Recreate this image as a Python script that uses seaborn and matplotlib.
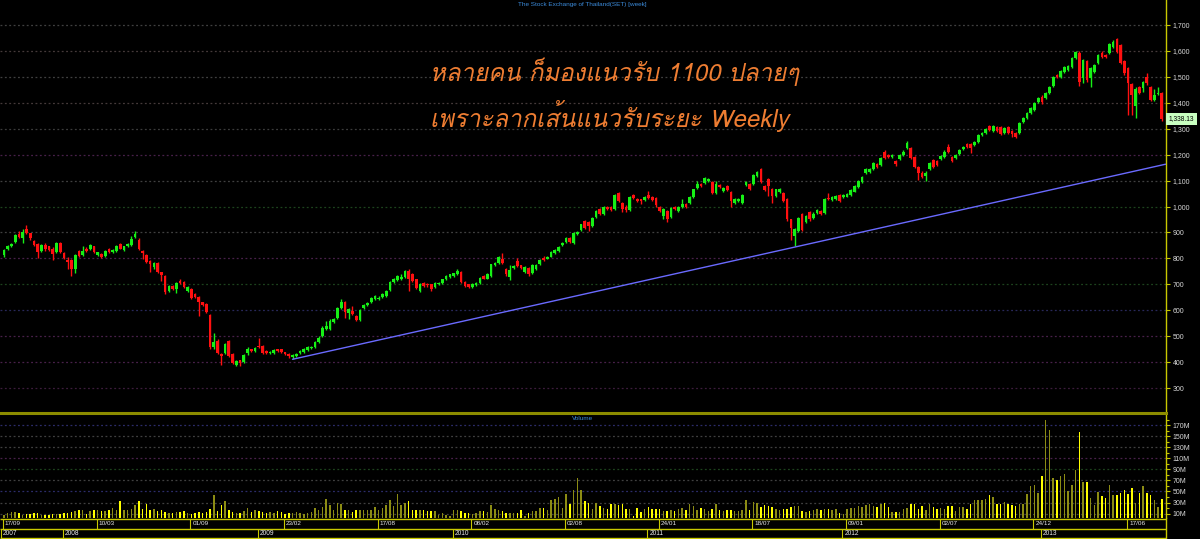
import numpy as np
import pandas as pd
import matplotlib
matplotlib.use("Agg")
import matplotlib.pyplot as plt
import seaborn as sns
from matplotlib import font_manager
from matplotlib.ft2font import FT2Font

# ------------------------------------------------------------------ data
start_week = "2007-09-17"
title = "The Stock Exchange of Thailand(SET) [week]"
note_lines = ["หลายคน ก็มองแนวรับ 1100 ปลายๆ", "เพราะลากเส้นแนวรับระยะ Weekly"]
volume_title = "Volume"
last_price_label = "1,338.13"

opens = [
    813, 838, 849, 864, 894, 877, 913, 896, 868, 855,
    829, 851, 846, 838, 823, 861, 819, 795, 795, 759,
    829, 813, 838, 836, 846, 813, 816, 810, 836, 823,
    829, 855, 833, 846, 851, 881, 872, 829, 813, 791,
    765, 782, 746, 733, 675, 694, 681, 714, 710, 675,
    681, 662, 653, 630, 624, 581, 457, 482, 431, 435,
    482, 431, 388, 408, 401, 437, 450, 444, 462, 462,
    444, 435, 437, 450, 450, 438, 433, 418, 424, 435,
    440, 447, 453, 460, 476, 501, 527, 527, 553, 572,
    607, 630, 591, 598, 576, 562, 607, 620, 630, 643,
    643, 652, 655, 678, 709, 717, 722, 730, 751, 738,
    719, 674, 706, 702, 700, 691, 700, 706, 719, 728,
    732, 738, 747, 709, 700, 690, 697, 706, 732, 722,
    732, 773, 783, 799, 758, 730, 764, 790, 773, 747,
    764, 745, 760, 777, 803, 799, 807, 819, 829, 850,
    864, 880, 858, 893, 909, 944, 941, 925, 961, 989,
    970, 999, 999, 991, 1051, 1015, 1000, 986, 1043, 1030,
    1027, 1025, 1043, 1038, 1034, 999, 963, 982, 961, 999,
    982, 999, 1008, 1012, 1038, 1072, 1085, 1089, 1098, 1094,
    1053, 1081, 1060, 1079, 1056, 1015, 1021, 1015, 1081, 1085,
    1085, 1117, 1143, 1079, 1105, 1069, 1040, 1056, 1051, 1030,
    950, 886, 905, 970, 940, 979, 957, 976, 982, 976,
    1034, 1025, 1027, 1043, 1035, 1038, 1044, 1057, 1077, 1096,
    1128, 1134, 1143, 1164, 1160, 1212, 1199, 1192, 1177, 1182,
    1199, 1224, 1224, 1190, 1154, 1131, 1118, 1143, 1180, 1175,
    1182, 1192, 1231, 1192, 1186, 1202, 1221, 1241, 1241, 1237,
    1250, 1276, 1285, 1310, 1292, 1308, 1308, 1285, 1305, 1292,
    1285, 1285, 1327, 1340, 1359, 1372, 1404, 1424, 1417, 1439,
    1465, 1507, 1498, 1520, 1526, 1539, 1571, 1591, 1494, 1561,
    1494, 1520, 1552, 1593, 1584, 1591, 1616, 1645, 1623, 1559,
    1533, 1472, 1388, 1460, 1456, 1498, 1460, 1411, 1434, 1436,
]
highs = [
    836, 853, 860, 893, 905, 913, 928, 899, 870, 858,
    855, 859, 849, 842, 864, 864, 823, 804, 797, 816,
    833, 846, 842, 855, 849, 826, 819, 833, 840, 836,
    852, 858, 849, 861, 887, 905, 878, 833, 816, 795,
    787, 787, 749, 737, 698, 698, 710, 720, 714, 692,
    685, 666, 656, 633, 627, 585, 512, 489, 435, 473,
    486, 434, 408, 410, 430, 459, 452, 459, 492, 465,
    447, 444, 450, 452, 452, 440, 435, 432, 437, 448,
    454, 461, 464, 482, 499, 538, 559, 568, 570, 611,
    643, 634, 608, 615, 580, 606, 624, 631, 651, 660,
    655, 668, 678, 713, 724, 736, 738, 755, 760, 742,
    722, 704, 710, 706, 703, 710, 710, 722, 735, 741,
    745, 758, 751, 712, 703, 705, 709, 729, 736, 742,
    780, 786, 808, 822, 762, 773, 775, 803, 776, 771,
    768, 777, 777, 796, 810, 810, 829, 835, 847, 864,
    883, 883, 902, 906, 934, 947, 944, 960, 986, 993,
    1003, 1003, 1003, 1047, 1056, 1018, 1004, 1040, 1047, 1033,
    1030, 1041, 1060, 1041, 1037, 1003, 995, 986, 999, 1003,
    1003, 1027, 1012, 1041, 1069, 1098, 1089, 1114, 1111, 1098,
    1098, 1085, 1076, 1083, 1060, 1031, 1031, 1047, 1098, 1089,
    1124, 1137, 1147, 1083, 1109, 1072, 1069, 1070, 1055, 1034,
    953, 916, 961, 974, 967, 983, 977, 990, 986, 1034,
    1051, 1041, 1044, 1047, 1048, 1052, 1068, 1083, 1104, 1119,
    1150, 1147, 1173, 1168, 1191, 1216, 1203, 1203, 1181, 1203,
    1216, 1254, 1228, 1194, 1158, 1135, 1135, 1171, 1184, 1180,
    1199, 1216, 1240, 1196, 1203, 1222, 1235, 1245, 1245, 1254,
    1280, 1289, 1302, 1314, 1314, 1312, 1312, 1305, 1309, 1296,
    1289, 1325, 1344, 1363, 1383, 1402, 1421, 1428, 1440, 1466,
    1502, 1511, 1528, 1543, 1546, 1575, 1601, 1600, 1569, 1565,
    1537, 1550, 1588, 1600, 1588, 1631, 1640, 1650, 1627, 1563,
    1537, 1476, 1460, 1464, 1485, 1516, 1464, 1452, 1460, 1440,
]
lows = [
    806, 832, 845, 860, 878, 859, 893, 872, 846, 800,
    825, 829, 829, 795, 819, 819, 797, 759, 733, 743,
    806, 810, 823, 833, 819, 808, 800, 806, 820, 820,
    826, 835, 830, 843, 848, 878, 832, 797, 783, 746,
    759, 742, 714, 664, 670, 678, 666, 703, 685, 671,
    645, 649, 576, 615, 590, 450, 452, 430, 388, 430,
    420, 392, 384, 386, 397, 428, 440, 440, 455, 433,
    430, 431, 433, 438, 436, 428, 415, 413, 420, 431,
    436, 444, 450, 456, 472, 497, 523, 523, 549, 568,
    603, 572, 566, 581, 559, 558, 603, 616, 627, 640,
    640, 648, 652, 674, 705, 713, 717, 726, 674, 709,
    683, 670, 690, 688, 676, 687, 697, 703, 716, 725,
    729, 735, 704, 690, 686, 687, 694, 703, 719, 719,
    729, 770, 780, 780, 734, 717, 760, 767, 758, 743,
    734, 741, 757, 774, 789, 796, 804, 816, 826, 847,
    861, 861, 855, 889, 906, 915, 906, 921, 957, 966,
    966, 985, 982, 988, 1018, 979, 980, 982, 1030, 1018,
    1008, 1021, 1030, 1021, 1000, 978, 953, 940, 957, 988,
    978, 995, 995, 1008, 1034, 1069, 1076, 1085, 1094, 1050,
    1050, 1072, 1056, 1058, 999, 1011, 1018, 1011, 1078, 1062,
    1081, 1114, 1090, 1058, 1040, 1015, 1036, 1052, 1017, 944,
    871, 847, 901, 905, 936, 946, 953, 972, 966, 972,
    1024, 1021, 1024, 1017, 1031, 1035, 1041, 1054, 1073, 1092,
    1124, 1130, 1139, 1147, 1156, 1182, 1188, 1188, 1158, 1178,
    1195, 1220, 1182, 1150, 1102, 1111, 1100, 1139, 1150, 1155,
    1178, 1188, 1208, 1173, 1182, 1198, 1217, 1227, 1205, 1233,
    1246, 1272, 1281, 1291, 1288, 1288, 1276, 1281, 1281, 1268,
    1265, 1281, 1323, 1336, 1355, 1368, 1400, 1395, 1413, 1435,
    1461, 1494, 1494, 1516, 1522, 1535, 1567, 1465, 1475, 1478,
    1460, 1516, 1548, 1574, 1574, 1587, 1612, 1593, 1548, 1505,
    1353, 1353, 1340, 1432, 1440, 1470, 1405, 1407, 1430, 1330,
]
closes = [
    832, 849, 855, 890, 881, 900, 897, 877, 851, 825,
    851, 836, 833, 816, 861, 823, 800, 787, 761, 813,
    810, 829, 827, 851, 823, 823, 804, 829, 823, 833,
    849, 838, 846, 855, 874, 894, 836, 820, 787, 778,
    782, 746, 735, 669, 694, 681, 707, 707, 688, 688,
    649, 653, 630, 620, 594, 457, 476, 435, 424, 469,
    424, 396, 405, 396, 427, 450, 444, 455, 457, 437,
    434, 440, 446, 442, 440, 431, 422, 428, 433, 444,
    450, 457, 460, 478, 495, 530, 540, 559, 566, 607,
    633, 594, 604, 585, 563, 602, 620, 627, 647, 656,
    649, 664, 674, 710, 719, 732, 730, 751, 719, 713,
    687, 700, 694, 697, 681, 706, 706, 719, 732, 738,
    742, 751, 709, 694, 690, 702, 706, 726, 722, 738,
    777, 783, 805, 783, 738, 755, 771, 771, 762, 768,
    738, 773, 773, 792, 792, 807, 826, 832, 844, 861,
    880, 864, 899, 902, 931, 918, 925, 957, 983, 970,
    999, 989, 986, 1043, 1021, 989, 985, 1036, 1033, 1021,
    1021, 1038, 1034, 1025, 1004, 982, 991, 953, 995, 991,
    999, 1008, 999, 1038, 1066, 1085, 1079, 1111, 1107, 1053,
    1085, 1076, 1072, 1062, 1021, 1027, 1027, 1043, 1094, 1066,
    1120, 1133, 1094, 1062, 1079, 1040, 1066, 1066, 1021, 950,
    918, 912, 957, 909, 963, 950, 973, 986, 970, 1030,
    1027, 1038, 1040, 1021, 1044, 1048, 1064, 1079, 1100, 1115,
    1143, 1143, 1169, 1151, 1187, 1186, 1192, 1199, 1164, 1199,
    1212, 1246, 1186, 1154, 1131, 1115, 1131, 1167, 1154, 1160,
    1195, 1212, 1212, 1177, 1199, 1218, 1231, 1231, 1224, 1250,
    1276, 1285, 1298, 1295, 1310, 1292, 1280, 1301, 1285, 1280,
    1269, 1321, 1340, 1359, 1379, 1398, 1417, 1404, 1436, 1462,
    1498, 1498, 1524, 1539, 1542, 1571, 1597, 1481, 1565, 1488,
    1533, 1546, 1584, 1578, 1578, 1627, 1636, 1597, 1552, 1514,
    1475, 1430, 1452, 1436, 1481, 1475, 1411, 1430, 1439, 1338.13,
]
volumes_m = [
    8, 11, 13, 13, 11, 7, 10, 10, 11, 11,
    8, 7, 7, 10, 10, 10, 11, 11, 13, 14,
    16, 16, 10, 14, 16, 17, 14, 14, 17, 20,
    16, 32, 17, 16, 19, 25, 32, 19, 27, 16,
    19, 14, 16, 13, 11, 11, 13, 13, 14, 11,
    10, 11, 13, 11, 13, 19, 43, 14, 25, 32,
    16, 13, 11, 11, 14, 20, 13, 17, 14, 13,
    11, 13, 11, 14, 13, 10, 11, 11, 13, 11,
    10, 11, 13, 20, 16, 22, 36, 25, 17, 30,
    27, 17, 16, 13, 16, 16, 16, 17, 16, 22,
    17, 20, 25, 34, 23, 45,
    25, 30, 32, 17, 17, 17, 17, 14, 14, 14,
    7, 11, 7, 5, 16, 16, 14, 11, 11, 10,
    11, 14, 14, 13, 25, 19, 17, 14, 11, 11,
    11, 11, 16, 5, 11, 14, 14, 20, 20, 16,
    34, 37, 40, 20, 46, 28, 52, 75, 52, 33,
    30, 19, 30, 23, 20, 19, 28, 28, 25, 27,
    19, 19, 5, 20, 13, 19, 22, 19, 19, 19,
    14, 14, 16, 14, 19, 20, 17, 27, 23, 17,
    20, 19, 14, 19, 28, 17, 14, 16, 17, 14,
    14, 16, 34, 16, 31, 30, 22, 25, 23, 22,
    19, 16, 19, 19, 22, 23, 23,
    15, 13, 15, 16, 18, 16, 19, 18, 17, 18,
    11, 10, 18, 20, 20, 23, 22, 26, 28, 24,
    22, 28, 30, 21, 13, 12, 13, 19, 20, 28,
    28, 18, 24, 16, 27, 21, 18, 20, 18, 24,
    24, 15, 22, 21, 19, 27, 34, 34, 35, 36,
    43, 40, 27, 28, 31, 27, 26, 24, 27, 28,
    45, 60, 62, 48, 78, 180, 161, 75, 71, 78,
    81, 51, 62, 88, 157, 68, 68, 39, 26, 49,
    42, 39, 61, 44, 44, 47, 52, 45, 57, 30,
    48, 60, 47, 44, 35, 21, 36,
]
price_ticks = [300, 400, 500, 600, 700, 800, 900, 1000, 1100, 1200, 1300, 1400, 1500, 1600, 1700]
volume_ticks = [10, 30, 50, 70, 90, 110, 130, 150, 170]
# support line drawn by the analyst: (week index, index level) anchors
trend_weeks = [77, 310]
trend_values = [411, 1163]

# ------------------------------------------------------------------ style
sns.set_theme(style="dark", rc={"axes.facecolor": "black", "figure.facecolor": "black"})
plt.rcParams["font.family"] = ["Liberation Sans", "DejaVu Sans"]

W, H = 1200, 539
BG = "black"
YEL = "#c8c800"
GREEN = "#16f016"
RED = "#ff1010"
price_grid_colors = ["#3c1c3c", "#48204a", "#48204a", "#28285a", "#1d431d", "#48204a", "#404040",
                     "#1d431d", "#404040", "#48204a", "#3c3c3c", "#453a3a", "#404040", "#453a3a", "#404040"]
vol_grid_colors = ["#404040", "#404040", "#2c2c6a", "#404040", "#1d431d", "#48204a", "#404040",
                   "#404040", "#2c2c6a"]


def find_font(sample):
    chars = [c for c in set(sample) if ord(c) > 127]
    found = []
    seen = set()
    for fe in font_manager.fontManager.ttflist:
        if fe.fname in seen:
            continue
        seen.add(fe.fname)
        try:
            ft = FT2Font(fe.fname)
            ok = all(ft.get_char_index(ord(c)) != 0 for c in chars)
        except Exception:
            ok = False
        if ok:
            found.append((fe.name, fe.style))
    if not found:
        return None
    italic = [n for n, s in found if s in ("italic", "oblique")]
    return italic[0] if italic else found[0][0]


thai_font = find_font("".join(note_lines))

n = len(closes)
weeks = np.arange(n)
o = np.array(opens, float)
c = np.array(closes, float)
hi = np.array(highs, float)
lo = np.array(lows, float)
up = c >= o
dates = pd.date_range(start_week, periods=n, freq="7D")
xlim = (-4 / 3.747, 1162 / 3.747)

fig = plt.figure(figsize=(W / 100, H / 100), dpi=100, facecolor=BG)


def box(l, t, r, b):
    return [l / W, 1 - b / H, (r - l) / W, (b - t) / H]


ax = fig.add_axes(box(0, 0, 1166, 413))
axv = fig.add_axes(box(0, 413, 1166, 518))
axd = fig.add_axes(box(0, 518, 1166, 539))

for a in (ax, axv, axd):
    a.set_facecolor(BG)
    for s in a.spines.values():
        s.set_visible(False)
    a.spines["right"].set_visible(True)
    a.spines["right"].set_color(YEL)
    a.spines["right"].set_linewidth(1)
    a.grid(False)

# ---------------- price panel
ax.set_xlim(*xlim)
ax.set_ylim(204, 1796)
for t, gc in zip(price_ticks, price_grid_colors):
    ax.axhline(t, color=gc, lw=0.9, ls=(0, (1.5, 2)), zorder=0)

cols = np.where(up, GREEN, RED)
ax.vlines(weeks, lo, hi, colors=cols, lw=1, zorder=2)
ax.bar(weeks, np.maximum(np.abs(c - o), 2.5), bottom=np.minimum(o, c), width=0.72,
       color=cols, linewidth=0, zorder=3)

sns.lineplot(x=trend_weeks, y=trend_values, ax=ax, color="#6a6aff", lw=1, zorder=4)

ax.yaxis.tick_right()
ax.set_yticks(price_ticks)
ax.set_yticklabels([f"{t:,}" for t in price_ticks])
ax.tick_params(axis="y", colors=YEL, labelcolor="#d8d8d8", labelsize=5, length=3, width=0.8, pad=2,
               right=True, left=False)
ax.tick_params(axis="x", bottom=False, labelbottom=False)
ax.set_xlabel("")
ax.set_ylabel("")

ax.annotate(last_price_label, xy=(1, c[-1]), xycoords=("axes fraction", "data"),
            xytext=(2, 0), textcoords="offset points", fontsize=4.8, color="black",
            va="center", ha="left", annotation_clip=False,
            bbox=dict(boxstyle="square,pad=0.35", fc="#c8ffc0", ec="none"))

# ---------------- volume panel
vol_df = pd.DataFrame({"week": weeks, "volume": volumes_m,
                       "dir": np.where(up, "up", "down")})
sns.barplot(data=vol_df, x="week", y="volume", hue="dir",
            palette={"up": "#8c8c14", "down": "#ffff00"}, native_scale=True,
            dodge=False, width=0.4, legend=False, ax=axv, linewidth=0, saturation=1,
            errorbar=None)
axv.set_xlim(*xlim)
axv.set_ylim(2, 192)
for t, gc in zip(volume_ticks, vol_grid_colors):
    axv.axhline(t, color=gc, lw=0.9, ls=(0, (1.5, 2)), zorder=0)
axv.spines["top"].set_visible(True)
axv.spines["top"].set_color("#8c8c00")
axv.spines["top"].set_linewidth(2.2)
axv.yaxis.tick_right()
axv.set_yticks(volume_ticks)
axv.set_yticklabels([f"{t}M" for t in volume_ticks])
axv.set_yticks(np.arange(20, 190, 20), minor=True)
axv.tick_params(axis="y", which="major", colors=YEL, labelcolor="#d8d8d8", labelsize=5, length=3,
                width=0.8, pad=2, right=True, left=False)
axv.tick_params(axis="y", which="minor", colors=YEL, length=2, width=0.8, right=True, left=False)
axv.tick_params(axis="x", bottom=False, labelbottom=False)
axv.set_xlabel("")
axv.set_ylabel("")

# ---------------- date axis strip
axd.set_xlim(*xlim)
axd.set_ylim(21, 0)
axd.set_xticks([])
axd.set_yticks([])
axd.hlines([0.5, 10.5, 20.4], xlim[0], xlim[1], colors=YEL, lw=1)
for i in range(0, n, 25):
    axd.vlines(i - 0.3, 0.5, 10.5, colors=YEL, lw=0.8)
    axd.annotate(dates[i].strftime("%d/%m"), (i - 0.3, 5.8), xytext=(1.5, 0),
                 textcoords="offset points", color="#e8e8e8", fontsize=4.6, va="center", ha="left")
years = pd.Series(dates.year)
for yr in years.unique():
    i = int(np.argmax(years.values == yr))
    pos = i - 0.3 if i > 0 else xlim[0] + 0.3
    axd.vlines(pos, 10.5, 20.4, colors=YEL, lw=0.8)
    axd.annotate(str(yr), (pos, 15.6), xytext=(1.5, 0), textcoords="offset points",
                 color="#e8e8e8", fontsize=4.8, va="center", ha="left")

# ---------------- texts
fig.text(582 / W, 1 - 4.5 / H, title, color="#3c8cdc", fontsize=4.6, ha="center", va="center")
fig.text(583 / W, 1 - 418.5 / H, volume_title, color="#3c8cdc", fontsize=4.6, ha="center", va="center")
thai_family = [thai_font, "DejaVu Sans"] if thai_font else ["DejaVu Sans"]
for k, line in enumerate(note_lines):
    fig.text(430 / W, 1 - (72 + 44 * k) / H, line, color="#ee7d32", fontsize=17.3,
             family=thai_family, style="italic", ha="left", va="center")

fig.savefig("out.png", dpi=100, facecolor=BG)
